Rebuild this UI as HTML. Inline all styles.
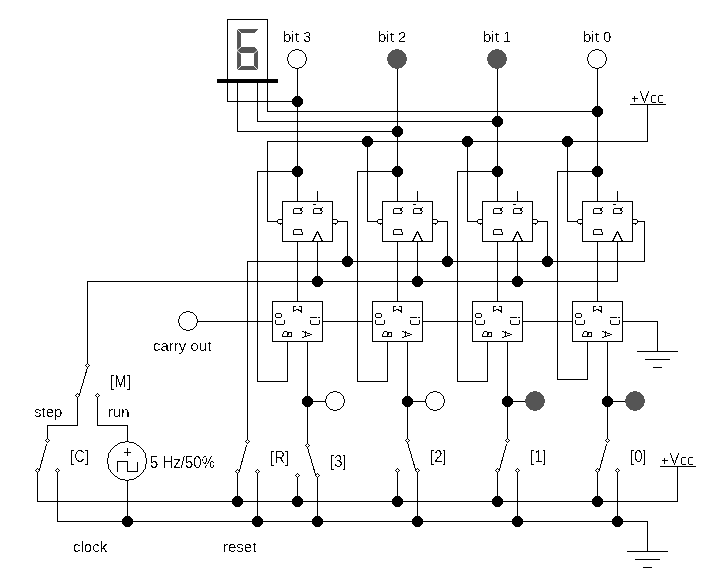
<!DOCTYPE html>
<html><head><meta charset="utf-8"><title>circuit</title>
<style>html,body{margin:0;padding:0;background:#fff;}svg{display:block;will-change:transform;}</style>
</head><body>
<svg width="726" height="582" viewBox="0 0 726 582">
<rect width="726" height="582" fill="#fff"/>
<g shape-rendering="crispEdges" fill="#555"><polygon points="237,29 258,29 254,33 241,33"/><polygon points="237,29 241,33 241,48 237,50"/><polygon points="237,50 241,53 241,66 237,70"/><polygon points="237,50 241,47 254,47 258,50 254,53 241,53"/><polygon points="254,53 258,50 258,70 254,66"/><polygon points="241,66 254,66 258,70 237,70"/></g>
<path d="M237,29 L241,33 M237,50.5 L241,47 M237,50.5 L241,54 M254,53.5 L258,50 M237,70 L241,66 M258,70 L254,66" stroke="#fff" stroke-width="0.9" fill="none"/>
<rect x="217" y="79" width="61" height="4" fill="#000" shape-rendering="crispEdges"/>
<path d="M227.5,79.5 L227.5,19.5 L267.5,19.5 L267.5,79.5" fill="none" stroke="#000" stroke-width="1" shape-rendering="crispEdges"/>
<path d="M227.5,79.5 L227.5,101.5 L297.5,101.5 M267.5,79.5 L267.5,111.5 L597.5,111.5 M257.5,79.5 L257.5,121.5 L497.5,121.5 M237.5,79.5 L237.5,131.5 L397.5,131.5 M267.5,221.5 L267.5,141.5 L647.5,141.5 L647.5,104.5 M630.5,104.5 L665.5,104.5 M644.5,261.5 L247.5,261.5 L247.5,441.5 M87.5,365.5 L87.5,281.5 L617.5,281.5 M197.5,321.5 L272.5,321.5 M322.5,321.5 L372.5,321.5 M422.5,321.5 L472.5,321.5 M522.5,321.5 L572.5,321.5 M622.5,321.5 L657.5,321.5 L657.5,351.5 M637.5,351.5 L677.5,351.5 M645.5,359.5 L669.5,359.5 M653.5,367.5 L661.5,367.5 M297.5,69.5 L297.5,201.5 M297.5,241.5 L297.5,301.5 M297.5,171.5 L257.5,171.5 L257.5,381.5 L287.5,381.5 L287.5,341.5 M267.5,221.5 L277.5,221.5 M282.5,201.5 L332.5,201.5 L332.5,241.5 L282.5,241.5 L282.5,201.5 M337.5,221.5 L347.5,221.5 L347.5,261.5 M317.5,191.5 L317.5,201.5 M317.5,241.5 L317.5,281.5 M272.5,301.5 L322.5,301.5 L322.5,341.5 L272.5,341.5 L272.5,301.5 M307.5,341.5 L307.5,445.5 M307.5,401.5 L325.5,401.5 M397.5,69.5 L397.5,201.5 M397.5,241.5 L397.5,301.5 M397.5,171.5 L357.5,171.5 L357.5,381.5 L387.5,381.5 L387.5,341.5 M367.5,141.5 L367.5,221.5 M367.5,221.5 L377.5,221.5 M382.5,201.5 L432.5,201.5 L432.5,241.5 L382.5,241.5 L382.5,201.5 M437.5,221.5 L447.5,221.5 L447.5,261.5 M417.5,191.5 L417.5,201.5 M417.5,241.5 L417.5,281.5 M372.5,301.5 L422.5,301.5 L422.5,341.5 L372.5,341.5 L372.5,301.5 M407.5,341.5 L407.5,440.5 M407.5,401.5 L425.5,401.5 M497.5,69.5 L497.5,201.5 M497.5,241.5 L497.5,301.5 M497.5,171.5 L457.5,171.5 L457.5,381.5 L487.5,381.5 L487.5,341.5 M467.5,141.5 L467.5,221.5 M467.5,221.5 L477.5,221.5 M482.5,201.5 L532.5,201.5 L532.5,241.5 L482.5,241.5 L482.5,201.5 M537.5,221.5 L547.5,221.5 L547.5,261.5 M517.5,191.5 L517.5,201.5 M517.5,241.5 L517.5,281.5 M472.5,301.5 L522.5,301.5 L522.5,341.5 L472.5,341.5 L472.5,301.5 M507.5,341.5 L507.5,440.5 M507.5,401.5 L525.5,401.5 M597.5,69.5 L597.5,201.5 M597.5,241.5 L597.5,301.5 M597.5,171.5 L557.5,171.5 L557.5,379.5 L587.5,379.5 L587.5,341.5 M567.5,141.5 L567.5,221.5 M567.5,221.5 L577.5,221.5 M582.5,201.5 L632.5,201.5 L632.5,241.5 L582.5,241.5 L582.5,201.5 M637.5,221.5 L644.5,221.5 L644.5,261.5 M617.5,191.5 L617.5,201.5 M617.5,241.5 L617.5,281.5 M572.5,301.5 L622.5,301.5 L622.5,341.5 L572.5,341.5 L572.5,301.5 M607.5,341.5 L607.5,440.5 M607.5,401.5 L625.5,401.5 M87.5,367.5 L79.5,394.5 M77.5,395.5 L77.5,425.5 L47.5,425.5 L47.5,440.5 M97.5,395.5 L97.5,425.5 L127.5,425.5 L127.5,441.5 M46.5,444.5 L39.5,469.5 M37.5,470.5 L37.5,501.5 L677.5,501.5 L677.5,466.5 M660.5,466.5 L695.5,466.5 M57.5,470.5 L57.5,521.5 L647.5,521.5 L647.5,551.5 M627.5,551.5 L667.5,551.5 M635.5,559.5 L659.5,559.5 M643.5,567.5 L651.5,567.5 M127.5,481.5 L127.5,521.5 M246.5,445.5 L239.5,470.5 M237.5,471.5 L237.5,501.5 M257.5,471.5 L257.5,521.5 M307.5,447.5 L315.5,474.5 M297.5,475.5 L297.5,501.5 M317.5,475.5 L317.5,521.5 M407.5,442.5 L415.5,469.5 M397.5,470.5 L397.5,501.5 M417.5,470.5 L417.5,521.5 M506.5,444.5 L499.5,469.5 M497.5,470.5 L497.5,501.5 M517.5,470.5 L517.5,521.5 M606.5,444.5 L599.5,469.5 M597.5,470.5 L597.5,501.5 M617.5,470.5 L617.5,521.5" fill="none" stroke="#000" stroke-width="1" stroke-linecap="square" shape-rendering="crispEdges"/>
<path d="M302.5,207.5 L302.5,207.5 M322.5,207.5 L322.5,207.5 M294.5,208.5 L301.5,208.5 M314.5,208.5 L321.5,208.5 M293.5,209.5 L293.5,213.5 M313.5,209.5 L313.5,213.5 M300.5,209.5 L301.5,209.5 M320.5,209.5 L321.5,209.5 M300.5,210.5 L301.5,210.5 M320.5,210.5 L321.5,210.5 M302.5,211.5 L302.5,211.5 M322.5,211.5 L322.5,211.5 M301.5,212.5 L301.5,212.5 M321.5,212.5 L321.5,212.5 M293.5,213.5 L301.5,213.5 M313.5,213.5 L321.5,213.5 M313.5,204.5 L315.5,204.5 M294.5,229.5 L301.5,229.5 M293.5,230.5 L293.5,234.5 M301.5,230.5 L301.5,231.5 M302.5,232.5 L302.5,234.5 M293.5,234.5 L302.5,234.5 M312.5,241.5 L317.5,231.5 L322.5,241.5 M281.5,219.5 L278.5,219.5 L277.5,220.5 L277.5,222.5 L278.5,223.5 L281.5,223.5 M280.5,224.5 L280.5,224.5 M333.5,219.5 L336.5,219.5 L337.5,220.5 L337.5,222.5 L336.5,223.5 L333.5,223.5 M335.5,224.5 L335.5,224.5 M276.5,313.5 L280.5,313.5 L281.5,314.5 L281.5,316.5 L280.5,317.5 L276.5,317.5 L275.5,316.5 L275.5,314.5 L276.5,313.5 M275.5,320.5 L275.5,323.5 L276.5,324.5 L283.5,324.5 L284.5,323.5 L284.5,320.5 M293.5,306.5 L295.5,306.5 M299.5,306.5 L301.5,306.5 M293.5,306.5 L293.5,311.5 M301.5,306.5 L301.5,312.5 M296.5,309.5 L298.5,309.5 M293.5,310.5 L295.5,310.5 M298.5,310.5 L301.5,310.5 M300.5,311.5 L300.5,311.5 M310.5,317.5 L316.5,317.5 M318.5,317.5 L319.5,317.5 M310.5,320.5 L310.5,323.5 L311.5,324.5 L318.5,324.5 L319.5,323.5 L319.5,320.5 M284.5,331.5 L286.5,331.5 M283.5,332.5 L283.5,333.5 M282.5,334.5 L282.5,336.5 M282.5,336.5 L291.5,336.5 M287.5,332.5 L287.5,336.5 M287.5,332.5 L291.5,332.5 M291.5,332.5 L291.5,336.5 M288.5,333.5 L288.5,334.5 M302.5,331.5 L303.5,331.5 M305.5,331.5 L305.5,331.5 M304.5,332.5 L306.5,332.5 M305.5,333.5 L305.5,335.5 M307.5,333.5 L309.5,333.5 M310.5,334.5 L311.5,334.5 M307.5,335.5 L309.5,335.5 M304.5,336.5 L306.5,336.5 M302.5,337.5 L303.5,337.5 M402.5,207.5 L402.5,207.5 M422.5,207.5 L422.5,207.5 M394.5,208.5 L401.5,208.5 M414.5,208.5 L421.5,208.5 M393.5,209.5 L393.5,213.5 M413.5,209.5 L413.5,213.5 M400.5,209.5 L401.5,209.5 M420.5,209.5 L421.5,209.5 M400.5,210.5 L401.5,210.5 M420.5,210.5 L421.5,210.5 M402.5,211.5 L402.5,211.5 M422.5,211.5 L422.5,211.5 M401.5,212.5 L401.5,212.5 M421.5,212.5 L421.5,212.5 M393.5,213.5 L401.5,213.5 M413.5,213.5 L421.5,213.5 M413.5,204.5 L415.5,204.5 M394.5,229.5 L401.5,229.5 M393.5,230.5 L393.5,234.5 M401.5,230.5 L401.5,231.5 M402.5,232.5 L402.5,234.5 M393.5,234.5 L402.5,234.5 M412.5,241.5 L417.5,231.5 L422.5,241.5 M381.5,219.5 L378.5,219.5 L377.5,220.5 L377.5,222.5 L378.5,223.5 L381.5,223.5 M380.5,224.5 L380.5,224.5 M433.5,219.5 L436.5,219.5 L437.5,220.5 L437.5,222.5 L436.5,223.5 L433.5,223.5 M435.5,224.5 L435.5,224.5 M376.5,313.5 L380.5,313.5 L381.5,314.5 L381.5,316.5 L380.5,317.5 L376.5,317.5 L375.5,316.5 L375.5,314.5 L376.5,313.5 M375.5,320.5 L375.5,323.5 L376.5,324.5 L383.5,324.5 L384.5,323.5 L384.5,320.5 M393.5,306.5 L395.5,306.5 M399.5,306.5 L401.5,306.5 M393.5,306.5 L393.5,311.5 M401.5,306.5 L401.5,312.5 M396.5,309.5 L398.5,309.5 M393.5,310.5 L395.5,310.5 M398.5,310.5 L401.5,310.5 M400.5,311.5 L400.5,311.5 M410.5,317.5 L416.5,317.5 M418.5,317.5 L419.5,317.5 M410.5,320.5 L410.5,323.5 L411.5,324.5 L418.5,324.5 L419.5,323.5 L419.5,320.5 M384.5,331.5 L386.5,331.5 M383.5,332.5 L383.5,333.5 M382.5,334.5 L382.5,336.5 M382.5,336.5 L391.5,336.5 M387.5,332.5 L387.5,336.5 M387.5,332.5 L391.5,332.5 M391.5,332.5 L391.5,336.5 M388.5,333.5 L388.5,334.5 M402.5,331.5 L403.5,331.5 M405.5,331.5 L405.5,331.5 M404.5,332.5 L406.5,332.5 M405.5,333.5 L405.5,335.5 M407.5,333.5 L409.5,333.5 M410.5,334.5 L411.5,334.5 M407.5,335.5 L409.5,335.5 M404.5,336.5 L406.5,336.5 M402.5,337.5 L403.5,337.5 M502.5,207.5 L502.5,207.5 M522.5,207.5 L522.5,207.5 M494.5,208.5 L501.5,208.5 M514.5,208.5 L521.5,208.5 M493.5,209.5 L493.5,213.5 M513.5,209.5 L513.5,213.5 M500.5,209.5 L501.5,209.5 M520.5,209.5 L521.5,209.5 M500.5,210.5 L501.5,210.5 M520.5,210.5 L521.5,210.5 M502.5,211.5 L502.5,211.5 M522.5,211.5 L522.5,211.5 M501.5,212.5 L501.5,212.5 M521.5,212.5 L521.5,212.5 M493.5,213.5 L501.5,213.5 M513.5,213.5 L521.5,213.5 M513.5,204.5 L515.5,204.5 M494.5,229.5 L501.5,229.5 M493.5,230.5 L493.5,234.5 M501.5,230.5 L501.5,231.5 M502.5,232.5 L502.5,234.5 M493.5,234.5 L502.5,234.5 M512.5,241.5 L517.5,231.5 L522.5,241.5 M481.5,219.5 L478.5,219.5 L477.5,220.5 L477.5,222.5 L478.5,223.5 L481.5,223.5 M480.5,224.5 L480.5,224.5 M533.5,219.5 L536.5,219.5 L537.5,220.5 L537.5,222.5 L536.5,223.5 L533.5,223.5 M535.5,224.5 L535.5,224.5 M476.5,313.5 L480.5,313.5 L481.5,314.5 L481.5,316.5 L480.5,317.5 L476.5,317.5 L475.5,316.5 L475.5,314.5 L476.5,313.5 M475.5,320.5 L475.5,323.5 L476.5,324.5 L483.5,324.5 L484.5,323.5 L484.5,320.5 M493.5,306.5 L495.5,306.5 M499.5,306.5 L501.5,306.5 M493.5,306.5 L493.5,311.5 M501.5,306.5 L501.5,312.5 M496.5,309.5 L498.5,309.5 M493.5,310.5 L495.5,310.5 M498.5,310.5 L501.5,310.5 M500.5,311.5 L500.5,311.5 M510.5,317.5 L516.5,317.5 M518.5,317.5 L519.5,317.5 M510.5,320.5 L510.5,323.5 L511.5,324.5 L518.5,324.5 L519.5,323.5 L519.5,320.5 M484.5,331.5 L486.5,331.5 M483.5,332.5 L483.5,333.5 M482.5,334.5 L482.5,336.5 M482.5,336.5 L491.5,336.5 M487.5,332.5 L487.5,336.5 M487.5,332.5 L491.5,332.5 M491.5,332.5 L491.5,336.5 M488.5,333.5 L488.5,334.5 M502.5,331.5 L503.5,331.5 M505.5,331.5 L505.5,331.5 M504.5,332.5 L506.5,332.5 M505.5,333.5 L505.5,335.5 M507.5,333.5 L509.5,333.5 M510.5,334.5 L511.5,334.5 M507.5,335.5 L509.5,335.5 M504.5,336.5 L506.5,336.5 M502.5,337.5 L503.5,337.5 M602.5,207.5 L602.5,207.5 M622.5,207.5 L622.5,207.5 M594.5,208.5 L601.5,208.5 M614.5,208.5 L621.5,208.5 M593.5,209.5 L593.5,213.5 M613.5,209.5 L613.5,213.5 M600.5,209.5 L601.5,209.5 M620.5,209.5 L621.5,209.5 M600.5,210.5 L601.5,210.5 M620.5,210.5 L621.5,210.5 M602.5,211.5 L602.5,211.5 M622.5,211.5 L622.5,211.5 M601.5,212.5 L601.5,212.5 M621.5,212.5 L621.5,212.5 M593.5,213.5 L601.5,213.5 M613.5,213.5 L621.5,213.5 M613.5,204.5 L615.5,204.5 M594.5,229.5 L601.5,229.5 M593.5,230.5 L593.5,234.5 M601.5,230.5 L601.5,231.5 M602.5,232.5 L602.5,234.5 M593.5,234.5 L602.5,234.5 M612.5,241.5 L617.5,231.5 L622.5,241.5 M581.5,219.5 L578.5,219.5 L577.5,220.5 L577.5,222.5 L578.5,223.5 L581.5,223.5 M580.5,224.5 L580.5,224.5 M633.5,219.5 L636.5,219.5 L637.5,220.5 L637.5,222.5 L636.5,223.5 L633.5,223.5 M635.5,224.5 L635.5,224.5 M576.5,313.5 L580.5,313.5 L581.5,314.5 L581.5,316.5 L580.5,317.5 L576.5,317.5 L575.5,316.5 L575.5,314.5 L576.5,313.5 M575.5,320.5 L575.5,323.5 L576.5,324.5 L583.5,324.5 L584.5,323.5 L584.5,320.5 M593.5,306.5 L595.5,306.5 M599.5,306.5 L601.5,306.5 M593.5,306.5 L593.5,311.5 M601.5,306.5 L601.5,312.5 M596.5,309.5 L598.5,309.5 M593.5,310.5 L595.5,310.5 M598.5,310.5 L601.5,310.5 M600.5,311.5 L600.5,311.5 M610.5,317.5 L616.5,317.5 M618.5,317.5 L619.5,317.5 M610.5,320.5 L610.5,323.5 L611.5,324.5 L618.5,324.5 L619.5,323.5 L619.5,320.5 M584.5,331.5 L586.5,331.5 M583.5,332.5 L583.5,333.5 M582.5,334.5 L582.5,336.5 M582.5,336.5 L591.5,336.5 M587.5,332.5 L587.5,336.5 M587.5,332.5 L591.5,332.5 M591.5,332.5 L591.5,336.5 M588.5,333.5 L588.5,334.5 M602.5,331.5 L603.5,331.5 M605.5,331.5 L605.5,331.5 M604.5,332.5 L606.5,332.5 M605.5,333.5 L605.5,335.5 M607.5,333.5 L609.5,333.5 M610.5,334.5 L611.5,334.5 M607.5,335.5 L609.5,335.5 M604.5,336.5 L606.5,336.5 M602.5,337.5 L603.5,337.5 M632.5,98.5 L637.5,98.5 M634.5,96.5 L634.5,101.5 M640.5,91.5 L644.5,102.5 L648.5,91.5 M655.5,95.5 L652.5,95.5 L651.5,96.5 L651.5,101.5 L652.5,102.5 L655.5,102.5 M662.5,95.5 L659.5,95.5 L658.5,96.5 L658.5,101.5 L659.5,102.5 L662.5,102.5 M662.5,460.5 L667.5,460.5 M664.5,458.5 L664.5,463.5 M670.5,453.5 L674.5,464.5 L678.5,453.5 M685.5,457.5 L682.5,457.5 L681.5,458.5 L681.5,463.5 L682.5,464.5 L685.5,464.5 M692.5,457.5 L689.5,457.5 L688.5,458.5 L688.5,463.5 L689.5,464.5 L692.5,464.5" fill="none" stroke="#000" stroke-width="1" stroke-linecap="square" stroke-linejoin="bevel" shape-rendering="crispEdges"/>
<path d="M295,49h4v1h-4zM292,50h10v1h-10zM291,51h12v1h-12zM290,52h14v1h-14zM289,53h16v1h-16zM288,54h18v1h-18zM288,55h18v1h-18zM288,56h18v1h-18zM287,57h20v1h-20zM287,58h20v1h-20zM287,59h20v1h-20zM287,60h20v1h-20zM288,61h18v1h-18zM288,62h18v1h-18zM288,63h18v1h-18zM289,64h16v1h-16zM290,65h14v1h-14zM291,66h12v1h-12zM292,67h10v1h-10zM295,68h4v1h-4z" fill="#fff" shape-rendering="crispEdges"/>
<path d="M295,49h4v1h-4zM292,50h3v1h-3zM299,50h3v1h-3zM291,51h1v1h-1zM302,51h1v1h-1zM290,52h1v1h-1zM303,52h1v1h-1zM289,53h1v1h-1zM304,53h1v1h-1zM288,54h1v1h-1zM305,54h1v1h-1zM288,55h1v1h-1zM305,55h1v1h-1zM288,56h1v1h-1zM305,56h1v1h-1zM287,57h1v1h-1zM306,57h1v1h-1zM287,58h1v1h-1zM306,58h1v1h-1zM287,59h1v1h-1zM306,59h1v1h-1zM287,60h1v1h-1zM306,60h1v1h-1zM288,61h1v1h-1zM305,61h1v1h-1zM288,62h1v1h-1zM305,62h1v1h-1zM288,63h1v1h-1zM305,63h1v1h-1zM289,64h1v1h-1zM304,64h1v1h-1zM290,65h1v1h-1zM303,65h1v1h-1zM291,66h1v1h-1zM302,66h1v1h-1zM292,67h3v1h-3zM299,67h3v1h-3zM295,68h4v1h-4z" fill="#000" shape-rendering="crispEdges"/>
<path d="M333,391h4v1h-4zM330,392h10v1h-10zM329,393h12v1h-12zM328,394h14v1h-14zM327,395h16v1h-16zM326,396h18v1h-18zM326,397h18v1h-18zM326,398h18v1h-18zM325,399h20v1h-20zM325,400h20v1h-20zM325,401h20v1h-20zM325,402h20v1h-20zM326,403h18v1h-18zM326,404h18v1h-18zM326,405h18v1h-18zM327,406h16v1h-16zM328,407h14v1h-14zM329,408h12v1h-12zM330,409h10v1h-10zM333,410h4v1h-4z" fill="#fff" shape-rendering="crispEdges"/>
<path d="M333,391h4v1h-4zM330,392h3v1h-3zM337,392h3v1h-3zM329,393h1v1h-1zM340,393h1v1h-1zM328,394h1v1h-1zM341,394h1v1h-1zM327,395h1v1h-1zM342,395h1v1h-1zM326,396h1v1h-1zM343,396h1v1h-1zM326,397h1v1h-1zM343,397h1v1h-1zM326,398h1v1h-1zM343,398h1v1h-1zM325,399h1v1h-1zM344,399h1v1h-1zM325,400h1v1h-1zM344,400h1v1h-1zM325,401h1v1h-1zM344,401h1v1h-1zM325,402h1v1h-1zM344,402h1v1h-1zM326,403h1v1h-1zM343,403h1v1h-1zM326,404h1v1h-1zM343,404h1v1h-1zM326,405h1v1h-1zM343,405h1v1h-1zM327,406h1v1h-1zM342,406h1v1h-1zM328,407h1v1h-1zM341,407h1v1h-1zM329,408h1v1h-1zM340,408h1v1h-1zM330,409h3v1h-3zM337,409h3v1h-3zM333,410h4v1h-4z" fill="#000" shape-rendering="crispEdges"/>
<path d="M395,49h4v1h-4zM392,50h10v1h-10zM391,51h12v1h-12zM390,52h14v1h-14zM389,53h16v1h-16zM388,54h18v1h-18zM388,55h18v1h-18zM388,56h18v1h-18zM387,57h20v1h-20zM387,58h20v1h-20zM387,59h20v1h-20zM387,60h20v1h-20zM388,61h18v1h-18zM388,62h18v1h-18zM388,63h18v1h-18zM389,64h16v1h-16zM390,65h14v1h-14zM391,66h12v1h-12zM392,67h10v1h-10zM395,68h4v1h-4z" fill="#555" shape-rendering="crispEdges"/>
<path d="M433,391h4v1h-4zM430,392h10v1h-10zM429,393h12v1h-12zM428,394h14v1h-14zM427,395h16v1h-16zM426,396h18v1h-18zM426,397h18v1h-18zM426,398h18v1h-18zM425,399h20v1h-20zM425,400h20v1h-20zM425,401h20v1h-20zM425,402h20v1h-20zM426,403h18v1h-18zM426,404h18v1h-18zM426,405h18v1h-18zM427,406h16v1h-16zM428,407h14v1h-14zM429,408h12v1h-12zM430,409h10v1h-10zM433,410h4v1h-4z" fill="#fff" shape-rendering="crispEdges"/>
<path d="M433,391h4v1h-4zM430,392h3v1h-3zM437,392h3v1h-3zM429,393h1v1h-1zM440,393h1v1h-1zM428,394h1v1h-1zM441,394h1v1h-1zM427,395h1v1h-1zM442,395h1v1h-1zM426,396h1v1h-1zM443,396h1v1h-1zM426,397h1v1h-1zM443,397h1v1h-1zM426,398h1v1h-1zM443,398h1v1h-1zM425,399h1v1h-1zM444,399h1v1h-1zM425,400h1v1h-1zM444,400h1v1h-1zM425,401h1v1h-1zM444,401h1v1h-1zM425,402h1v1h-1zM444,402h1v1h-1zM426,403h1v1h-1zM443,403h1v1h-1zM426,404h1v1h-1zM443,404h1v1h-1zM426,405h1v1h-1zM443,405h1v1h-1zM427,406h1v1h-1zM442,406h1v1h-1zM428,407h1v1h-1zM441,407h1v1h-1zM429,408h1v1h-1zM440,408h1v1h-1zM430,409h3v1h-3zM437,409h3v1h-3zM433,410h4v1h-4z" fill="#000" shape-rendering="crispEdges"/>
<path d="M495,49h4v1h-4zM492,50h10v1h-10zM491,51h12v1h-12zM490,52h14v1h-14zM489,53h16v1h-16zM488,54h18v1h-18zM488,55h18v1h-18zM488,56h18v1h-18zM487,57h20v1h-20zM487,58h20v1h-20zM487,59h20v1h-20zM487,60h20v1h-20zM488,61h18v1h-18zM488,62h18v1h-18zM488,63h18v1h-18zM489,64h16v1h-16zM490,65h14v1h-14zM491,66h12v1h-12zM492,67h10v1h-10zM495,68h4v1h-4z" fill="#555" shape-rendering="crispEdges"/>
<path d="M533,391h4v1h-4zM530,392h10v1h-10zM529,393h12v1h-12zM528,394h14v1h-14zM527,395h16v1h-16zM526,396h18v1h-18zM526,397h18v1h-18zM526,398h18v1h-18zM525,399h20v1h-20zM525,400h20v1h-20zM525,401h20v1h-20zM525,402h20v1h-20zM526,403h18v1h-18zM526,404h18v1h-18zM526,405h18v1h-18zM527,406h16v1h-16zM528,407h14v1h-14zM529,408h12v1h-12zM530,409h10v1h-10zM533,410h4v1h-4z" fill="#555" shape-rendering="crispEdges"/>
<path d="M595,49h4v1h-4zM592,50h10v1h-10zM591,51h12v1h-12zM590,52h14v1h-14zM589,53h16v1h-16zM588,54h18v1h-18zM588,55h18v1h-18zM588,56h18v1h-18zM587,57h20v1h-20zM587,58h20v1h-20zM587,59h20v1h-20zM587,60h20v1h-20zM588,61h18v1h-18zM588,62h18v1h-18zM588,63h18v1h-18zM589,64h16v1h-16zM590,65h14v1h-14zM591,66h12v1h-12zM592,67h10v1h-10zM595,68h4v1h-4z" fill="#fff" shape-rendering="crispEdges"/>
<path d="M595,49h4v1h-4zM592,50h3v1h-3zM599,50h3v1h-3zM591,51h1v1h-1zM602,51h1v1h-1zM590,52h1v1h-1zM603,52h1v1h-1zM589,53h1v1h-1zM604,53h1v1h-1zM588,54h1v1h-1zM605,54h1v1h-1zM588,55h1v1h-1zM605,55h1v1h-1zM588,56h1v1h-1zM605,56h1v1h-1zM587,57h1v1h-1zM606,57h1v1h-1zM587,58h1v1h-1zM606,58h1v1h-1zM587,59h1v1h-1zM606,59h1v1h-1zM587,60h1v1h-1zM606,60h1v1h-1zM588,61h1v1h-1zM605,61h1v1h-1zM588,62h1v1h-1zM605,62h1v1h-1zM588,63h1v1h-1zM605,63h1v1h-1zM589,64h1v1h-1zM604,64h1v1h-1zM590,65h1v1h-1zM603,65h1v1h-1zM591,66h1v1h-1zM602,66h1v1h-1zM592,67h3v1h-3zM599,67h3v1h-3zM595,68h4v1h-4z" fill="#000" shape-rendering="crispEdges"/>
<path d="M633,391h4v1h-4zM630,392h10v1h-10zM629,393h12v1h-12zM628,394h14v1h-14zM627,395h16v1h-16zM626,396h18v1h-18zM626,397h18v1h-18zM626,398h18v1h-18zM625,399h20v1h-20zM625,400h20v1h-20zM625,401h20v1h-20zM625,402h20v1h-20zM626,403h18v1h-18zM626,404h18v1h-18zM626,405h18v1h-18zM627,406h16v1h-16zM628,407h14v1h-14zM629,408h12v1h-12zM630,409h10v1h-10zM633,410h4v1h-4z" fill="#555" shape-rendering="crispEdges"/>
<path d="M186,311h4v1h-4zM183,312h10v1h-10zM182,313h12v1h-12zM181,314h14v1h-14zM180,315h16v1h-16zM179,316h18v1h-18zM179,317h18v1h-18zM179,318h18v1h-18zM178,319h20v1h-20zM178,320h20v1h-20zM178,321h20v1h-20zM178,322h20v1h-20zM179,323h18v1h-18zM179,324h18v1h-18zM179,325h18v1h-18zM180,326h16v1h-16zM181,327h14v1h-14zM182,328h12v1h-12zM183,329h10v1h-10zM186,330h4v1h-4z" fill="#fff" shape-rendering="crispEdges"/>
<path d="M186,311h4v1h-4zM183,312h3v1h-3zM190,312h3v1h-3zM182,313h1v1h-1zM193,313h1v1h-1zM181,314h1v1h-1zM194,314h1v1h-1zM180,315h1v1h-1zM195,315h1v1h-1zM179,316h1v1h-1zM196,316h1v1h-1zM179,317h1v1h-1zM196,317h1v1h-1zM179,318h1v1h-1zM196,318h1v1h-1zM178,319h1v1h-1zM197,319h1v1h-1zM178,320h1v1h-1zM197,320h1v1h-1zM178,321h1v1h-1zM197,321h1v1h-1zM178,322h1v1h-1zM197,322h1v1h-1zM179,323h1v1h-1zM196,323h1v1h-1zM179,324h1v1h-1zM196,324h1v1h-1zM179,325h1v1h-1zM196,325h1v1h-1zM180,326h1v1h-1zM195,326h1v1h-1zM181,327h1v1h-1zM194,327h1v1h-1zM182,328h1v1h-1zM193,328h1v1h-1zM183,329h3v1h-3zM190,329h3v1h-3zM186,330h4v1h-4z" fill="#000" shape-rendering="crispEdges"/>
<path d="M125,441h4v1h-4zM125,480h4v1h-4zM120,442h14v1h-14zM120,479h14v1h-14zM118,443h18v1h-18zM118,478h18v1h-18zM117,444h20v1h-20zM117,477h20v1h-20zM115,445h24v1h-24zM115,476h24v1h-24zM114,446h26v1h-26zM114,475h26v1h-26zM113,447h28v1h-28zM113,474h28v1h-28zM112,448h30v1h-30zM112,473h30v1h-30zM111,449h32v1h-32zM111,472h32v1h-32zM110,450h34v1h-34zM110,471h34v1h-34zM110,451h34v1h-34zM110,470h34v1h-34zM109,452h36v1h-36zM109,469h36v1h-36zM108,453h38v1h-38zM108,468h38v1h-38zM108,454h38v1h-38zM108,467h38v1h-38zM108,455h38v1h-38zM108,466h38v1h-38zM108,456h38v1h-38zM108,465h38v1h-38zM108,457h38v1h-38zM108,464h38v1h-38zM107,458h40v1h-40zM107,463h40v1h-40zM107,459h40v1h-40zM107,462h40v1h-40zM107,460h40v1h-40zM107,461h40v1h-40z" fill="#fff" shape-rendering="crispEdges"/>
<path d="M125,441h4v1h-4zM125,480h4v1h-4zM120,442h5v1h-5zM129,442h5v1h-5zM120,479h5v1h-5zM129,479h5v1h-5zM118,443h2v1h-2zM134,443h2v1h-2zM118,478h2v1h-2zM134,478h2v1h-2zM117,444h1v1h-1zM136,444h1v1h-1zM117,477h1v1h-1zM136,477h1v1h-1zM115,445h2v1h-2zM137,445h2v1h-2zM115,476h2v1h-2zM137,476h2v1h-2zM114,446h1v1h-1zM139,446h1v1h-1zM114,475h1v1h-1zM139,475h1v1h-1zM113,447h1v1h-1zM140,447h1v1h-1zM113,474h1v1h-1zM140,474h1v1h-1zM112,448h1v1h-1zM141,448h1v1h-1zM112,473h1v1h-1zM141,473h1v1h-1zM111,449h1v1h-1zM142,449h1v1h-1zM111,472h1v1h-1zM142,472h1v1h-1zM110,450h1v1h-1zM143,450h1v1h-1zM110,471h1v1h-1zM143,471h1v1h-1zM110,451h1v1h-1zM143,451h1v1h-1zM110,470h1v1h-1zM143,470h1v1h-1zM109,452h1v1h-1zM144,452h1v1h-1zM109,469h1v1h-1zM144,469h1v1h-1zM108,453h1v1h-1zM145,453h1v1h-1zM108,468h1v1h-1zM145,468h1v1h-1zM108,454h1v1h-1zM145,454h1v1h-1zM108,467h1v1h-1zM145,467h1v1h-1zM108,455h1v1h-1zM145,455h1v1h-1zM108,466h1v1h-1zM145,466h1v1h-1zM108,456h1v1h-1zM145,456h1v1h-1zM108,465h1v1h-1zM145,465h1v1h-1zM108,457h1v1h-1zM145,457h1v1h-1zM108,464h1v1h-1zM145,464h1v1h-1zM107,458h1v1h-1zM146,458h1v1h-1zM107,463h1v1h-1zM146,463h1v1h-1zM107,459h1v1h-1zM146,459h1v1h-1zM107,462h1v1h-1zM146,462h1v1h-1zM107,460h1v1h-1zM146,460h1v1h-1zM107,461h1v1h-1zM146,461h1v1h-1z" fill="#000" shape-rendering="crispEdges"/>
<path d="M127.5,448.5 L127.5,455.5M124.5,452.5 L130.5,452.5M117.5,471.5 L117.5,461.5 L127.5,461.5 L127.5,471.5 L137.5,471.5 L137.5,462.5" fill="none" stroke="#000" stroke-linecap="square" shape-rendering="crispEdges"/>
<path d="M295,96h5v1h-5zM294,97h7v1h-7zM293,98h9v1h-9zM292,99h11v1h-11zM292,100h11v1h-11zM292,101h11v1h-11zM292,102h11v1h-11zM292,103h11v1h-11zM293,104h9v1h-9zM294,105h7v1h-7zM295,106h5v1h-5zM295,166h5v1h-5zM294,167h7v1h-7zM293,168h9v1h-9zM292,169h11v1h-11zM292,170h11v1h-11zM292,171h11v1h-11zM292,172h11v1h-11zM292,173h11v1h-11zM293,174h9v1h-9zM294,175h7v1h-7zM295,176h5v1h-5zM345,256h5v1h-5zM344,257h7v1h-7zM343,258h9v1h-9zM342,259h11v1h-11zM342,260h11v1h-11zM342,261h11v1h-11zM342,262h11v1h-11zM342,263h11v1h-11zM343,264h9v1h-9zM344,265h7v1h-7zM345,266h5v1h-5zM315,276h5v1h-5zM314,277h7v1h-7zM313,278h9v1h-9zM312,279h11v1h-11zM312,280h11v1h-11zM312,281h11v1h-11zM312,282h11v1h-11zM312,283h11v1h-11zM313,284h9v1h-9zM314,285h7v1h-7zM315,286h5v1h-5zM305,396h5v1h-5zM304,397h7v1h-7zM303,398h9v1h-9zM302,399h11v1h-11zM302,400h11v1h-11zM302,401h11v1h-11zM302,402h11v1h-11zM302,403h11v1h-11zM303,404h9v1h-9zM304,405h7v1h-7zM305,406h5v1h-5zM395,126h5v1h-5zM394,127h7v1h-7zM393,128h9v1h-9zM392,129h11v1h-11zM392,130h11v1h-11zM392,131h11v1h-11zM392,132h11v1h-11zM392,133h11v1h-11zM393,134h9v1h-9zM394,135h7v1h-7zM395,136h5v1h-5zM395,166h5v1h-5zM394,167h7v1h-7zM393,168h9v1h-9zM392,169h11v1h-11zM392,170h11v1h-11zM392,171h11v1h-11zM392,172h11v1h-11zM392,173h11v1h-11zM393,174h9v1h-9zM394,175h7v1h-7zM395,176h5v1h-5zM365,136h5v1h-5zM364,137h7v1h-7zM363,138h9v1h-9zM362,139h11v1h-11zM362,140h11v1h-11zM362,141h11v1h-11zM362,142h11v1h-11zM362,143h11v1h-11zM363,144h9v1h-9zM364,145h7v1h-7zM365,146h5v1h-5zM445,256h5v1h-5zM444,257h7v1h-7zM443,258h9v1h-9zM442,259h11v1h-11zM442,260h11v1h-11zM442,261h11v1h-11zM442,262h11v1h-11zM442,263h11v1h-11zM443,264h9v1h-9zM444,265h7v1h-7zM445,266h5v1h-5zM415,276h5v1h-5zM414,277h7v1h-7zM413,278h9v1h-9zM412,279h11v1h-11zM412,280h11v1h-11zM412,281h11v1h-11zM412,282h11v1h-11zM412,283h11v1h-11zM413,284h9v1h-9zM414,285h7v1h-7zM415,286h5v1h-5zM405,396h5v1h-5zM404,397h7v1h-7zM403,398h9v1h-9zM402,399h11v1h-11zM402,400h11v1h-11zM402,401h11v1h-11zM402,402h11v1h-11zM402,403h11v1h-11zM403,404h9v1h-9zM404,405h7v1h-7zM405,406h5v1h-5zM495,116h5v1h-5zM494,117h7v1h-7zM493,118h9v1h-9zM492,119h11v1h-11zM492,120h11v1h-11zM492,121h11v1h-11zM492,122h11v1h-11zM492,123h11v1h-11zM493,124h9v1h-9zM494,125h7v1h-7zM495,126h5v1h-5zM495,166h5v1h-5zM494,167h7v1h-7zM493,168h9v1h-9zM492,169h11v1h-11zM492,170h11v1h-11zM492,171h11v1h-11zM492,172h11v1h-11zM492,173h11v1h-11zM493,174h9v1h-9zM494,175h7v1h-7zM495,176h5v1h-5zM465,136h5v1h-5zM464,137h7v1h-7zM463,138h9v1h-9zM462,139h11v1h-11zM462,140h11v1h-11zM462,141h11v1h-11zM462,142h11v1h-11zM462,143h11v1h-11zM463,144h9v1h-9zM464,145h7v1h-7zM465,146h5v1h-5zM545,256h5v1h-5zM544,257h7v1h-7zM543,258h9v1h-9zM542,259h11v1h-11zM542,260h11v1h-11zM542,261h11v1h-11zM542,262h11v1h-11zM542,263h11v1h-11zM543,264h9v1h-9zM544,265h7v1h-7zM545,266h5v1h-5zM515,276h5v1h-5zM514,277h7v1h-7zM513,278h9v1h-9zM512,279h11v1h-11zM512,280h11v1h-11zM512,281h11v1h-11zM512,282h11v1h-11zM512,283h11v1h-11zM513,284h9v1h-9zM514,285h7v1h-7zM515,286h5v1h-5zM505,396h5v1h-5zM504,397h7v1h-7zM503,398h9v1h-9zM502,399h11v1h-11zM502,400h11v1h-11zM502,401h11v1h-11zM502,402h11v1h-11zM502,403h11v1h-11zM503,404h9v1h-9zM504,405h7v1h-7zM505,406h5v1h-5zM595,106h5v1h-5zM594,107h7v1h-7zM593,108h9v1h-9zM592,109h11v1h-11zM592,110h11v1h-11zM592,111h11v1h-11zM592,112h11v1h-11zM592,113h11v1h-11zM593,114h9v1h-9zM594,115h7v1h-7zM595,116h5v1h-5zM595,166h5v1h-5zM594,167h7v1h-7zM593,168h9v1h-9zM592,169h11v1h-11zM592,170h11v1h-11zM592,171h11v1h-11zM592,172h11v1h-11zM592,173h11v1h-11zM593,174h9v1h-9zM594,175h7v1h-7zM595,176h5v1h-5zM565,136h5v1h-5zM564,137h7v1h-7zM563,138h9v1h-9zM562,139h11v1h-11zM562,140h11v1h-11zM562,141h11v1h-11zM562,142h11v1h-11zM562,143h11v1h-11zM563,144h9v1h-9zM564,145h7v1h-7zM565,146h5v1h-5zM605,396h5v1h-5zM604,397h7v1h-7zM603,398h9v1h-9zM602,399h11v1h-11zM602,400h11v1h-11zM602,401h11v1h-11zM602,402h11v1h-11zM602,403h11v1h-11zM603,404h9v1h-9zM604,405h7v1h-7zM605,406h5v1h-5zM125,516h5v1h-5zM124,517h7v1h-7zM123,518h9v1h-9zM122,519h11v1h-11zM122,520h11v1h-11zM122,521h11v1h-11zM122,522h11v1h-11zM122,523h11v1h-11zM123,524h9v1h-9zM124,525h7v1h-7zM125,526h5v1h-5zM235,496h5v1h-5zM234,497h7v1h-7zM233,498h9v1h-9zM232,499h11v1h-11zM232,500h11v1h-11zM232,501h11v1h-11zM232,502h11v1h-11zM232,503h11v1h-11zM233,504h9v1h-9zM234,505h7v1h-7zM235,506h5v1h-5zM255,516h5v1h-5zM254,517h7v1h-7zM253,518h9v1h-9zM252,519h11v1h-11zM252,520h11v1h-11zM252,521h11v1h-11zM252,522h11v1h-11zM252,523h11v1h-11zM253,524h9v1h-9zM254,525h7v1h-7zM255,526h5v1h-5zM295,496h5v1h-5zM294,497h7v1h-7zM293,498h9v1h-9zM292,499h11v1h-11zM292,500h11v1h-11zM292,501h11v1h-11zM292,502h11v1h-11zM292,503h11v1h-11zM293,504h9v1h-9zM294,505h7v1h-7zM295,506h5v1h-5zM315,516h5v1h-5zM314,517h7v1h-7zM313,518h9v1h-9zM312,519h11v1h-11zM312,520h11v1h-11zM312,521h11v1h-11zM312,522h11v1h-11zM312,523h11v1h-11zM313,524h9v1h-9zM314,525h7v1h-7zM315,526h5v1h-5zM395,496h5v1h-5zM394,497h7v1h-7zM393,498h9v1h-9zM392,499h11v1h-11zM392,500h11v1h-11zM392,501h11v1h-11zM392,502h11v1h-11zM392,503h11v1h-11zM393,504h9v1h-9zM394,505h7v1h-7zM395,506h5v1h-5zM415,516h5v1h-5zM414,517h7v1h-7zM413,518h9v1h-9zM412,519h11v1h-11zM412,520h11v1h-11zM412,521h11v1h-11zM412,522h11v1h-11zM412,523h11v1h-11zM413,524h9v1h-9zM414,525h7v1h-7zM415,526h5v1h-5zM495,496h5v1h-5zM494,497h7v1h-7zM493,498h9v1h-9zM492,499h11v1h-11zM492,500h11v1h-11zM492,501h11v1h-11zM492,502h11v1h-11zM492,503h11v1h-11zM493,504h9v1h-9zM494,505h7v1h-7zM495,506h5v1h-5zM515,516h5v1h-5zM514,517h7v1h-7zM513,518h9v1h-9zM512,519h11v1h-11zM512,520h11v1h-11zM512,521h11v1h-11zM512,522h11v1h-11zM512,523h11v1h-11zM513,524h9v1h-9zM514,525h7v1h-7zM515,526h5v1h-5zM595,496h5v1h-5zM594,497h7v1h-7zM593,498h9v1h-9zM592,499h11v1h-11zM592,500h11v1h-11zM592,501h11v1h-11zM592,502h11v1h-11zM592,503h11v1h-11zM593,504h9v1h-9zM594,505h7v1h-7zM595,506h5v1h-5zM615,516h5v1h-5zM614,517h7v1h-7zM613,518h9v1h-9zM612,519h11v1h-11zM612,520h11v1h-11zM612,521h11v1h-11zM612,522h11v1h-11zM612,523h11v1h-11zM613,524h9v1h-9zM614,525h7v1h-7zM615,526h5v1h-5z" fill="#000" shape-rendering="crispEdges"/>
<path d="M85.5,365.5 l2,-2 l2,2 l-2,2 z" fill="#fff" stroke="#000" stroke-width="1" shape-rendering="crispEdges"/>
<path d="M75.5,395.5 l2,-2 l2,2 l-2,2 z" fill="#fff" stroke="#000" stroke-width="1" shape-rendering="crispEdges"/>
<path d="M95.5,395.5 l2,-2 l2,2 l-2,2 z" fill="#fff" stroke="#000" stroke-width="1" shape-rendering="crispEdges"/>
<path d="M45.5,440.5 l2,-2 l2,2 l-2,2 z" fill="#fff" stroke="#000" stroke-width="1" shape-rendering="crispEdges"/>
<path d="M35.5,470.5 l2,-2 l2,2 l-2,2 z" fill="#fff" stroke="#000" stroke-width="1" shape-rendering="crispEdges"/>
<path d="M55.5,470.5 l2,-2 l2,2 l-2,2 z" fill="#fff" stroke="#000" stroke-width="1" shape-rendering="crispEdges"/>
<path d="M245.5,441.5 l2,-2 l2,2 l-2,2 z" fill="#fff" stroke="#000" stroke-width="1" shape-rendering="crispEdges"/>
<path d="M235.5,471.5 l2,-2 l2,2 l-2,2 z" fill="#fff" stroke="#000" stroke-width="1" shape-rendering="crispEdges"/>
<path d="M255.5,471.5 l2,-2 l2,2 l-2,2 z" fill="#fff" stroke="#000" stroke-width="1" shape-rendering="crispEdges"/>
<path d="M305.5,445.5 l2,-2 l2,2 l-2,2 z" fill="#fff" stroke="#000" stroke-width="1" shape-rendering="crispEdges"/>
<path d="M315.5,475.5 l2,-2 l2,2 l-2,2 z" fill="#fff" stroke="#000" stroke-width="1" shape-rendering="crispEdges"/>
<path d="M295.5,475.5 l2,-2 l2,2 l-2,2 z" fill="#fff" stroke="#000" stroke-width="1" shape-rendering="crispEdges"/>
<path d="M405.5,440.5 l2,-2 l2,2 l-2,2 z" fill="#fff" stroke="#000" stroke-width="1" shape-rendering="crispEdges"/>
<path d="M415.5,470.5 l2,-2 l2,2 l-2,2 z" fill="#fff" stroke="#000" stroke-width="1" shape-rendering="crispEdges"/>
<path d="M395.5,470.5 l2,-2 l2,2 l-2,2 z" fill="#fff" stroke="#000" stroke-width="1" shape-rendering="crispEdges"/>
<path d="M505.5,440.5 l2,-2 l2,2 l-2,2 z" fill="#fff" stroke="#000" stroke-width="1" shape-rendering="crispEdges"/>
<path d="M495.5,470.5 l2,-2 l2,2 l-2,2 z" fill="#fff" stroke="#000" stroke-width="1" shape-rendering="crispEdges"/>
<path d="M515.5,470.5 l2,-2 l2,2 l-2,2 z" fill="#fff" stroke="#000" stroke-width="1" shape-rendering="crispEdges"/>
<path d="M605.5,440.5 l2,-2 l2,2 l-2,2 z" fill="#fff" stroke="#000" stroke-width="1" shape-rendering="crispEdges"/>
<path d="M595.5,470.5 l2,-2 l2,2 l-2,2 z" fill="#fff" stroke="#000" stroke-width="1" shape-rendering="crispEdges"/>
<path d="M615.5,470.5 l2,-2 l2,2 l-2,2 z" fill="#fff" stroke="#000" stroke-width="1" shape-rendering="crispEdges"/>
<defs><filter id="alias" x="0" y="0" width="726" height="582" filterUnits="userSpaceOnUse" color-interpolation-filters="sRGB"><feComponentTransfer><feFuncA type="discrete" tableValues="0 0 0 1 1"/></feComponentTransfer></filter></defs>
<g font-family="Liberation Sans, sans-serif" font-size="15" fill="#000" filter="url(#alias)">
<text transform="translate(283,42) scale(1,1.0)">bit 3</text>
<text transform="translate(378,42) scale(1,1.0)">bit 2</text>
<text transform="translate(483,42) scale(1,1.0)">bit 1</text>
<text transform="translate(583,42) scale(1,1.0)">bit 0</text>
<text transform="translate(153,351) scale(1,1.0)">carry out</text>
<text transform="translate(110,386.5) scale(1,1.08)">[M]</text>
<text transform="translate(34,417) scale(1,1.0)">step</text>
<text transform="translate(108,417) scale(1,1.0)">run</text>
<text transform="translate(70,462) scale(1,1.08)">[C]</text>
<text transform="translate(150,468) scale(1,1.08)">5 Hz/50%</text>
<text transform="translate(270,462.5) scale(1,1.08)">[R]</text>
<text transform="translate(330,466.5) scale(1,1.08)">[3]</text>
<text transform="translate(430,462) scale(1,1.08)">[2]</text>
<text transform="translate(530,462) scale(1,1.08)">[1]</text>
<text transform="translate(630,462) scale(1,1.08)">[0]</text>
<text transform="translate(73,552) scale(1,1.0)">clock</text>
<text transform="translate(223,552) scale(1,1.0)">reset</text>
</g>
</svg>
</body></html>
